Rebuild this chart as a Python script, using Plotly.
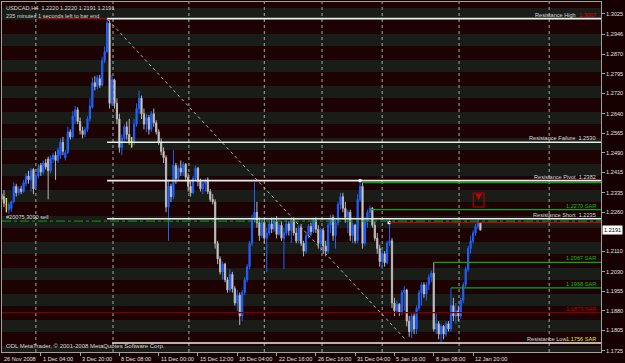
import plotly.graph_objects as go

# ------------------------------------------------------------------ data
bar_index = list(range(196))
opens = [1.2330,1.2320,1.2290,1.2270,1.2275,1.2300,1.2360,1.2335,1.2350,1.2340,
         1.2370,1.2400,1.2385,1.2425,1.2360,1.2400,1.2440,1.2415,1.2450,1.2465,
         1.2420,1.2465,1.2480,1.2460,1.2480,1.2530,1.2470,1.2490,1.2570,1.2550,
         1.2630,1.2655,1.2610,1.2575,1.2560,1.2580,1.2620,1.2665,1.2760,1.2745,
         1.2775,1.2750,1.2845,1.2880,1.2990,1.2680,1.2770,1.2680,1.2620,1.2510,
         1.2545,1.2590,1.2560,1.2530,1.2530,1.2600,1.2660,1.2700,1.2640,1.2600,
         1.2625,1.2580,1.2640,1.2605,1.2570,1.2530,1.2495,1.2470,1.2280,1.2360,
         1.2320,1.2440,1.2390,1.2430,1.2415,1.2445,1.2395,1.2360,1.2335,1.2390,
         1.2430,1.2380,1.2350,1.2370,1.2385,1.2340,1.2310,1.2300,1.2140,1.2080,
         1.2030,1.2060,1.2000,1.1960,1.2020,1.1965,1.1910,1.1940,1.1860,1.1950,
         1.2000,1.2050,1.2140,1.2230,1.2260,1.2220,1.2170,1.2220,1.2160,1.2180,
         1.2215,1.2195,1.2225,1.2175,1.2210,1.2160,1.2180,1.2215,1.2190,1.2230,
         1.2180,1.2150,1.2200,1.2140,1.2110,1.2170,1.2205,1.2185,1.2230,1.2195,
         1.2140,1.2190,1.2130,1.2110,1.2210,1.2240,1.2170,1.2220,1.2290,1.2320,
         1.2275,1.2240,1.2260,1.2170,1.2210,1.2150,1.2310,1.2360,1.2140,1.2225,
         1.2260,1.2275,1.2210,1.2160,1.2120,1.2070,1.2100,1.2065,1.2140,1.2150,
         1.1910,1.1880,1.1905,1.1875,1.1950,1.1960,1.1840,1.1800,1.1860,1.1810,
         1.1890,1.1950,1.1980,1.1945,1.1980,1.2010,1.2025,1.1810,1.1830,1.1790,
         1.1820,1.1790,1.1830,1.1810,1.1900,1.1860,1.1880,1.1860,1.1920,1.1980,
         1.2040,1.2120,1.2150,1.2180,1.2205,1.2220]
highs = [1.2390,1.2345,1.2315,1.2300,1.2305,1.2375,1.2370,1.2360,1.2362,1.2385,
         1.2410,1.2420,1.2430,1.2430,1.2410,1.2445,1.2450,1.2460,1.2465,1.2475,
         1.2480,1.2490,1.2495,1.2510,1.2545,1.2550,1.2500,1.2590,1.2580,1.2650,
         1.2670,1.2665,1.2625,1.2590,1.2590,1.2630,1.2700,1.2780,1.2785,1.2790,
         1.2790,1.2860,1.2900,1.3007,1.3000,1.2790,1.2775,1.2700,1.2640,1.2560,
         1.2600,1.2610,1.2620,1.2550,1.2620,1.2680,1.2730,1.2710,1.2660,1.2640,
         1.2635,1.2650,1.2660,1.2615,1.2580,1.2545,1.2510,1.2480,1.2380,1.2370,
         1.2500,1.2450,1.2440,1.2460,1.2455,1.2450,1.2410,1.2380,1.2400,1.2440,
         1.2435,1.2390,1.2380,1.2390,1.2395,1.2350,1.2330,1.2310,1.2150,1.2090,
         1.2070,1.2065,1.2010,1.2040,1.2030,1.1975,1.1960,1.1950,1.1960,1.2010,
         1.2060,1.2150,1.2250,1.2375,1.2300,1.2240,1.2230,1.2230,1.2200,1.2230,
         1.2240,1.2240,1.2245,1.2220,1.2225,1.2200,1.2230,1.2225,1.2240,1.2240,
         1.2200,1.2210,1.2215,1.2150,1.2180,1.2215,1.2220,1.2240,1.2240,1.2210,
         1.2200,1.2200,1.2150,1.2220,1.2250,1.2250,1.2230,1.2300,1.2335,1.2335,
         1.2300,1.2270,1.2270,1.2220,1.2215,1.2330,1.2382,1.2375,1.2240,1.2270,
         1.2285,1.2280,1.2225,1.2180,1.2135,1.2120,1.2110,1.2150,1.2235,1.2160,
         1.1930,1.1920,1.1910,1.1960,1.1975,1.1965,1.1860,1.1870,1.1870,1.1900,
         1.1960,1.1990,1.1990,1.1990,1.2020,1.2035,1.2067,1.1870,1.1840,1.1830,
         1.1825,1.1840,1.1840,1.1968,1.1930,1.1910,1.1900,1.1930,1.1990,1.2050,
         1.2130,1.2170,1.2190,1.2215,1.2235,1.2220]
lows = [1.2300,1.2280,1.2260,1.2255,1.2262,1.2295,1.2320,1.2325,1.2330,1.2335,
        1.2360,1.2370,1.2340,1.2330,1.2350,1.2390,1.2400,1.2405,1.2425,1.2310,
        1.2410,1.2450,1.2385,1.2450,1.2465,1.2480,1.2460,1.2485,1.2540,1.2545,
        1.2600,1.2600,1.2560,1.2545,1.2550,1.2570,1.2610,1.2660,1.2730,1.2735,
        1.2740,1.2745,1.2835,1.2875,1.2660,1.2670,1.2660,1.2600,1.2490,1.2480,
        1.2530,1.2540,1.2520,1.2510,1.2520,1.2590,1.2640,1.2620,1.2580,1.2570,
        1.2560,1.2570,1.2590,1.2560,1.2520,1.2480,1.2450,1.2260,1.2150,1.2300,
        1.2310,1.2370,1.2380,1.2400,1.2400,1.2380,1.2340,1.2320,1.2330,1.2380,
        1.2360,1.2340,1.2330,1.2340,1.2330,1.2300,1.2290,1.2120,1.2060,1.2020,
        1.2000,1.1990,1.1950,1.1950,1.1950,1.1900,1.1880,1.1825,1.1840,1.1940,
        1.1990,1.2040,1.2130,1.2220,1.2200,1.2150,1.2160,1.2140,1.2030,1.2170,
        1.2180,1.2185,1.2160,1.2170,1.2150,1.2040,1.2170,1.2170,1.2140,1.2170,
        1.2140,1.2140,1.2130,1.2090,1.2100,1.2160,1.2170,1.2180,1.2180,1.2120,
        1.2110,1.2100,1.2090,1.2100,1.2180,1.2150,1.2120,1.2210,1.2270,1.2260,
        1.2220,1.2180,1.2150,1.2140,1.2140,1.2140,1.2300,1.2120,1.2130,1.2200,
        1.2240,1.2200,1.2150,1.2100,1.2050,1.2040,1.2050,1.2060,1.2130,1.1890,
        1.1860,1.1870,1.1860,1.1865,1.1880,1.1820,1.1780,1.1775,1.1790,1.1790,
        1.1880,1.1900,1.1930,1.1920,1.1960,1.1990,1.1800,1.1790,1.1770,1.1760,
        1.1770,1.1780,1.1800,1.1800,1.1840,1.1830,1.1840,1.1850,1.1910,1.1970,
        1.2030,1.2100,1.2140,1.2170,1.2195,1.2191]
closes = [1.2310,1.2295,1.2290,1.2290,1.2300,1.2360,1.2335,1.2350,1.2340,1.2375,
          1.2400,1.2385,1.2420,1.2350,1.2400,1.2430,1.2415,1.2450,1.2435,1.2420,
          1.2470,1.2480,1.2460,1.2500,1.2530,1.2495,1.2490,1.2570,1.2550,1.2630,
          1.2655,1.2610,1.2575,1.2560,1.2580,1.2620,1.2670,1.2760,1.2745,1.2780,
          1.2750,1.2845,1.2880,1.2990,1.2680,1.2770,1.2680,1.2620,1.2510,1.2545,
          1.2590,1.2560,1.2530,1.2530,1.2600,1.2660,1.2700,1.2640,1.2600,1.2625,
          1.2580,1.2640,1.2605,1.2570,1.2530,1.2495,1.2470,1.2280,1.2360,1.2320,
          1.2440,1.2390,1.2430,1.2415,1.2445,1.2395,1.2360,1.2335,1.2390,1.2430,
          1.2380,1.2350,1.2370,1.2385,1.2340,1.2310,1.2300,1.2140,1.2080,1.2030,
          1.2060,1.2000,1.1960,1.2020,1.1965,1.1910,1.1940,1.1860,1.1950,1.2000,
          1.2050,1.2140,1.2230,1.2260,1.2220,1.2170,1.2220,1.2160,1.2180,1.2215,
          1.2195,1.2225,1.2175,1.2210,1.2160,1.2180,1.2215,1.2190,1.2230,1.2180,
          1.2150,1.2200,1.2140,1.2110,1.2170,1.2205,1.2185,1.2230,1.2195,1.2140,
          1.2190,1.2130,1.2110,1.2210,1.2240,1.2170,1.2220,1.2290,1.2320,1.2275,
          1.2240,1.2260,1.2170,1.2210,1.2150,1.2310,1.2360,1.2140,1.2225,1.2260,
          1.2275,1.2210,1.2160,1.2120,1.2070,1.2100,1.2065,1.2140,1.2150,1.1910,
          1.1880,1.1905,1.1875,1.1950,1.1960,1.1840,1.1800,1.1860,1.1810,1.1890,
          1.1950,1.1980,1.1945,1.1980,1.2010,1.2025,1.1810,1.1830,1.1790,1.1820,
          1.1790,1.1830,1.1810,1.1900,1.1860,1.1880,1.1860,1.1920,1.1980,1.2040,
          1.2120,1.2150,1.2180,1.2205,1.2220,1.2191]
doji_index = [2, 53]

# horizontal levels drawn on the chart
res_names = ["Resistance High", "Resistance Failure", "Resistance Pivot",
             "Resistance Short", "Resistance Low"]
res_values = [1.3007, 1.2530, 1.2382, 1.2235, 1.1756]
res_labels = ["1.3007", "1.2530", "1.2382", "1.2235", "1.1756"]
res_start = [43, 43, 43, 43, 45]

sar_values = [1.2374, 1.2270, 1.2067, 1.1968, 1.1873]
sar_start = [147, 150, 176, 183, 0]
sar_colors = ["#00b000", "#00b000", "#00b000", "#00b000", "#7a0000"]
sar_text = ["", "1.2270 SAR", "1.2067 SAR", "1.1968 SAR", "1.1873 SAR"]
sar_text_colors = ["#00c000", "#00c000", "#00c000", "#00c000", "#d00000"]

top_red_level = 1.3007
top_red_start = 15.3
order_level = 1.2226          # pending sell order (dash-dot)
order_label = "#20075,3090 sell"
entry_level = 1.2220          # red entry line
entry_start = 157.8

trend_x = [43.4, 164.7]
trend_y = [1.3002, 1.1767]

week_lines = [14.0, 45.4, 76.3, 107.0, 130.5, 155.0, 186.3, 223.0]

ytick_vals = [1.3025, 1.2946, 1.2870, 1.2795, 1.2720, 1.2640, 1.2565, 1.2490,
              1.2415, 1.2335, 1.2260, 1.2110, 1.2030, 1.1955, 1.1880, 1.1805, 1.1725]
ytick_text = ["1.3025", "1.2946", "1.2870", "1.2795", "1.2720", "1.2640", "1.2565",
              "1.2490", "1.2415", "1.2335", "1.2260", "1.2110", "1.2030", "1.1955",
              "1.1880", "1.1805", "1.1725"]
xtick_idx = [0, 16, 32, 48, 64, 80, 96, 112, 128, 144, 160, 176, 192]
xtick_text = ["26 Nov 2008", "1 Dec 04:00", "3 Dec 20:00", "8 Dec 08:00",
              "11 Dec 00:00", "15 Dec 12:00", "18 Dec 04:00", "22 Dec 16:00",
              "26 Dec 16:00", "31 Dec 04:00", "5 Jan 16:00", "8 Jan 08:00",
              "12 Jan 20:00"]
last_price = 1.2191
header = "USDCAD,H4  1.2220 1.2220 1.2191 1.2191"
subheader = "235 minutes 1 seconds left to bar end"
footer = "ODL MetaTrader, \u00a9 2001-2008 MetaQuotes Software Corp."
signal_x = 194.3
signal_y = 1.2307

# ------------------------------------------------------------------ style
X0, X1 = 0.2, 244.1
Y0, Y1 = 1.1721, 1.3071
W, H = 625, 363
ML, MR, MT, MB = 2, 24, 2, 11
PLOT_H = H - MT - MB
BG = "#1c0202"
BAND = "#1a1c17"
FONT = "Liberation Sans"
TXT = "#d8d8d8"

fig = go.Figure()

fig.add_trace(go.Candlestick(
    x=bar_index, open=opens, high=highs, low=lows, close=closes,
    increasing=dict(line=dict(color="#1e62ff", width=1), fillcolor="#1e62ff"),
    decreasing=dict(line=dict(color="#b8b8b8", width=1), fillcolor="#e6e6e6"),
    whiskerwidth=0, hoverinfo="skip", showlegend=False))

# dojis in yellow
dx, dy = [], []
for i in doji_index:
    dx += [bar_index[i], bar_index[i], None]
    dy += [lows[i], highs[i], None]
fig.add_trace(go.Scatter(x=dx, y=dy, mode="lines",
                         line=dict(color="#e8e800", width=1.3),
                         hoverinfo="skip", showlegend=False))

shapes = []
# background bands (pixel rows converted to paper fraction)
for top in range(8, 352, 26):
    bot = min(top + 12, 352)
    shapes.append(dict(type="rect", xref="paper", yref="paper", layer="below",
                       x0=0, x1=1, y0=(352 - bot) / PLOT_H, y1=(352 - top) / PLOT_H,
                       fillcolor=BAND, line=dict(width=0)))
# weekly separators
for w in week_lines:
    shapes.append(dict(type="line", xref="x", yref="paper", x0=w, x1=w, y0=0, y1=1,
                       line=dict(color="#a8a8a8", width=1, dash="dot"), layer="below"))
# trend line
shapes.append(dict(type="line", xref="x", yref="y", x0=trend_x[0], y0=trend_y[0],
                   x1=trend_x[1], y1=trend_y[1],
                   line=dict(color="#b0b0b0", width=1, dash="dot")))
# order and entry lines
shapes.append(dict(type="line", xref="x", yref="y", x0=X0, x1=X1,
                   y0=order_level, y1=order_level,
                   line=dict(color="#10a010", width=1, dash="dashdot")))
shapes.append(dict(type="line", xref="x", yref="y", x0=entry_start, x1=X1,
                   y0=entry_level, y1=entry_level, line=dict(color="#e00000", width=1)))
shapes.append(dict(type="line", xref="x", yref="y", x0=top_red_start, x1=res_start[0],
                   y0=top_red_level, y1=top_red_level, line=dict(color="#c00000", width=1)))
# SAR lines
for v, s, c in zip(sar_values, sar_start, sar_colors):
    shapes.append(dict(type="line", xref="x", yref="y", x0=max(s, X0), x1=X1, y0=v, y1=v,
                       line=dict(color=c, width=1.2)))
# resistance lines
for v, s in zip(res_values, res_start):
    shapes.append(dict(type="line", xref="x", yref="y", x0=s, x1=X1, y0=v, y1=v,
                       line=dict(color="#ececec", width=1.6)))
# sell signal box
shapes.append(dict(type="rect", xref="x", yref="y", x0=signal_x - 2.2, x1=signal_x + 2.2,
                   y0=signal_y - 0.0027, y1=signal_y + 0.0027,
                   line=dict(color="#c00000", width=1)))

# markers
fig.add_trace(go.Scatter(x=[signal_x], y=[signal_y], mode="markers",
                         marker=dict(symbol="arrow-down", size=6, color="#d00000"),
                         hoverinfo="skip", showlegend=False))
fig.add_trace(go.Scatter(x=[146, entry_start], y=[res_values[2], entry_level], mode="markers",
                         marker=dict(symbol="square", size=3, color="#ffffff"),
                         hoverinfo="skip", showlegend=False))

ann = []
small = dict(family=FONT, size=5.6, color=TXT)
ann.append(dict(xref="paper", yref="paper", x=0, y=1, xanchor="left", yanchor="top",
                xshift=2, yshift=-1, text=header, showarrow=False, font=small))
ann.append(dict(xref="paper", yref="paper", x=0, y=1, xanchor="left", yanchor="top",
                xshift=2, yshift=-9, text=subheader, showarrow=False, font=small))
ann.append(dict(xref="paper", yref="paper", x=0, y=0, xanchor="left", yanchor="bottom",
                xshift=2, yshift=1, text=footer, showarrow=False,
                font=dict(family=FONT, size=6, color=TXT)))
ann.append(dict(xref="paper", yref="y", x=0, y=order_level, xanchor="left", yanchor="bottom",
                xshift=2, yshift=-1, text=order_label, showarrow=False, font=small))
# x labels
for i, t in zip(xtick_idx, xtick_text):
    if i < X0:
        ann.append(dict(xref="paper", yref="paper", x=0, y=0, xanchor="left", yanchor="top",
                        xshift=0, yshift=-2, text=t, showarrow=False,
                        font=dict(family=FONT, size=5.6, color="#e0e0e0")))
    else:
        ann.append(dict(xref="x", yref="paper", x=i, y=0, xanchor="left", yanchor="top",
                        xshift=0, yshift=-2, text=t, showarrow=False,
                        font=dict(family=FONT, size=5.6, color="#e0e0e0")))
# resistance labels
for n, v, lab in zip(res_names, res_values, res_labels):
    if n == "Resistance High":
        ann.append(dict(xref="paper", yref="y", x=1, y=v, xanchor="right", yanchor="bottom",
                        xshift=-23, yshift=-1, text=n, showarrow=False, font=small))
        ann.append(dict(xref="paper", yref="y", x=1, y=v, xanchor="right", yanchor="bottom",
                        xshift=-3, yshift=-1, text=lab, showarrow=False,
                        font=dict(family=FONT, size=5.6, color="#e00000")))
    elif n == "Resistance Low":
        ann.append(dict(xref="paper", yref="y", x=1, y=v, xanchor="right", yanchor="bottom",
                        xshift=-32, yshift=-1, text=n, showarrow=False, font=small))
        ann.append(dict(xref="paper", yref="y", x=1, y=v, xanchor="right", yanchor="bottom",
                        xshift=-3, yshift=-1, text=f"{lab} SAR", showarrow=False,
                        font=dict(family=FONT, size=5.6, color="#e8e800")))
    else:
        ann.append(dict(xref="paper", yref="y", x=1, y=v, xanchor="right", yanchor="bottom",
                        xshift=-3, yshift=-1, text=f"{n}  {lab}", showarrow=False,
                        font=small))
for v, t, c in zip(sar_values, sar_text, sar_text_colors):
    if t:
        ann.append(dict(xref="paper", yref="y", x=1, y=v, xanchor="right", yanchor="bottom",
                        xshift=-3, yshift=-1, text=t, showarrow=False,
                        font=dict(family=FONT, size=5.6, color=c)))
# current price box
ann.append(dict(xref="paper", yref="y", x=1, y=last_price, xanchor="left", yanchor="middle",
                xshift=1, text=f"{last_price:.4f}", showarrow=False, bgcolor="#ffffff",
                borderpad=1, font=dict(family=FONT, size=5.6, color="#000000")))

fig.update_layout(
    width=W, height=H, margin=dict(l=ML, r=MR, t=MT, b=MB, pad=0),
    paper_bgcolor="#160000", plot_bgcolor=BG,
    shapes=shapes, annotations=ann, showlegend=False,
    xaxis=dict(range=[X0, X1], rangeslider=dict(visible=False), showgrid=False,
               zeroline=False, showline=True, linecolor="#a0a0a0", linewidth=1, mirror=True,
               tickmode="array", tickvals=xtick_idx, ticks="outside", ticklen=3,
               tickcolor="#a0a0a0", showticklabels=False, fixedrange=True),
    yaxis=dict(range=[Y0, Y1], side="right", showgrid=False, zeroline=False,
               showline=True, linecolor="#a0a0a0", linewidth=1, mirror=True,
               tickmode="array", tickvals=ytick_vals, ticktext=ytick_text,
               ticks="outside", ticklen=3, tickcolor="#a0a0a0",
               tickfont=dict(family=FONT, size=5.6, color="#e0e0e0"), fixedrange=True),
)

fig.write_html("out.html")
